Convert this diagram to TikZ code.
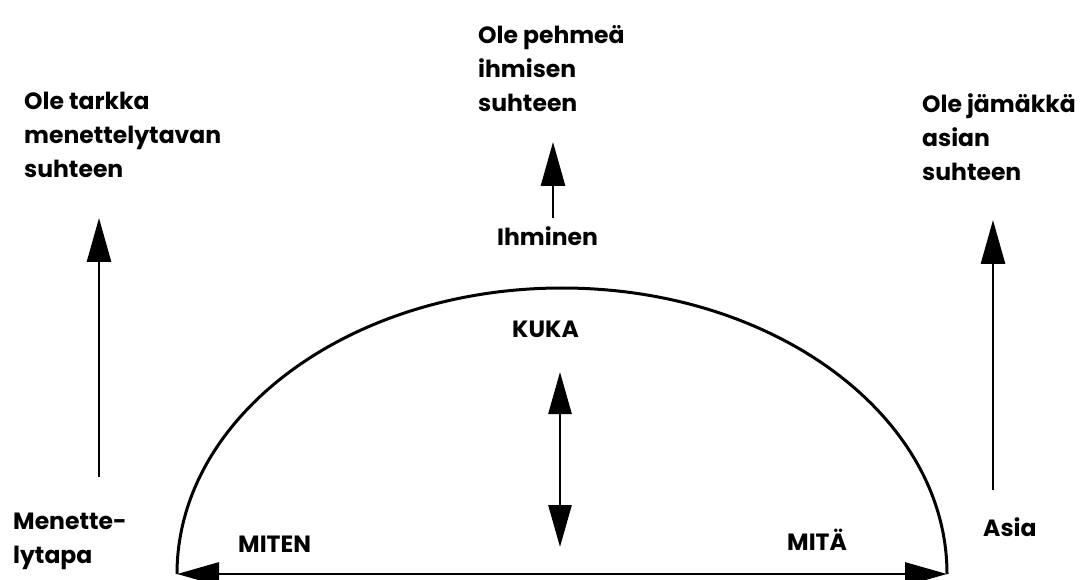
\documentclass[tikz,border=0pt]{standalone}
\usepackage{fontspec}
\setmainfont{Poppins}
\usetikzlibrary{arrows.meta}
\tikzset{
  lbl/.style={inner sep=0pt, align=left, font=\fontsize{23.5}{34}\selectfont\bfseries},
  arr/.style={line width=2.8pt, -{Triangle[length=44pt,width=24pt]}},
  darr/.style={line width=2.8pt, {Triangle[length=42pt,width=23pt]}-{Triangle[length=42pt,width=23pt]}},
  curve/.style={line width=3pt}
}
\begin{document}
\begin{tikzpicture}[x=1pt,y=1pt]
\useasboundingbox (0,0) rectangle (1092,579);
\clip (0,0) rectangle (1092,579);
% texts
\node[lbl, anchor=north west] (tl) at (24,487) {Ole tarkka\\menettelytavan\\suhteen};
\node[lbl, anchor=north west] (tm) at (478,554) {Ole pehmeä\\ihmisen\\suhteen};
\node[lbl, anchor=north west] (tr) at (922,486) {Ole jämäkkä\\asian\\suhteen};
\node[lbl, anchor=base west] (ihm) at (497,333) {Ihminen};
\node[lbl, anchor=north west] (men) at (13,66) {Menette-\\lytapa};
\node[lbl, anchor=north west] (asia) at (983,62) {Asia};
\node[lbl, anchor=base west] (kuka) at (512,242) {KUKA};
\node[lbl, anchor=base west] (miten) at (238,27) {MITEN};
\node[lbl, anchor=base west] (mita) at (787,29) {MITÄ};
% coordinates
\coordinate (lb) at (99,102);
\coordinate (lt) at (99,361);
\coordinate (rb) at (993,89);
\coordinate (rt) at (993,359);
\coordinate (ib) at (553,361);
\coordinate (it) at (553,437);
\coordinate (kt) at (560,207);
\coordinate (kb) at (560,32);
\coordinate (L) at (177,5);
\coordinate (R) at (947,5);
% arc
\draw[curve] (L) arc[start angle=180, end angle=0, x radius=385, y radius=286];
% arrows
\draw[darr] (L) -- (R);
\draw[arr] (lb) -- (lt);
\draw[arr] (rb) -- (rt);
\draw[arr] (ib) -- (it);
\draw[darr] (kt) -- (kb);
\end{tikzpicture}
\end{document}
